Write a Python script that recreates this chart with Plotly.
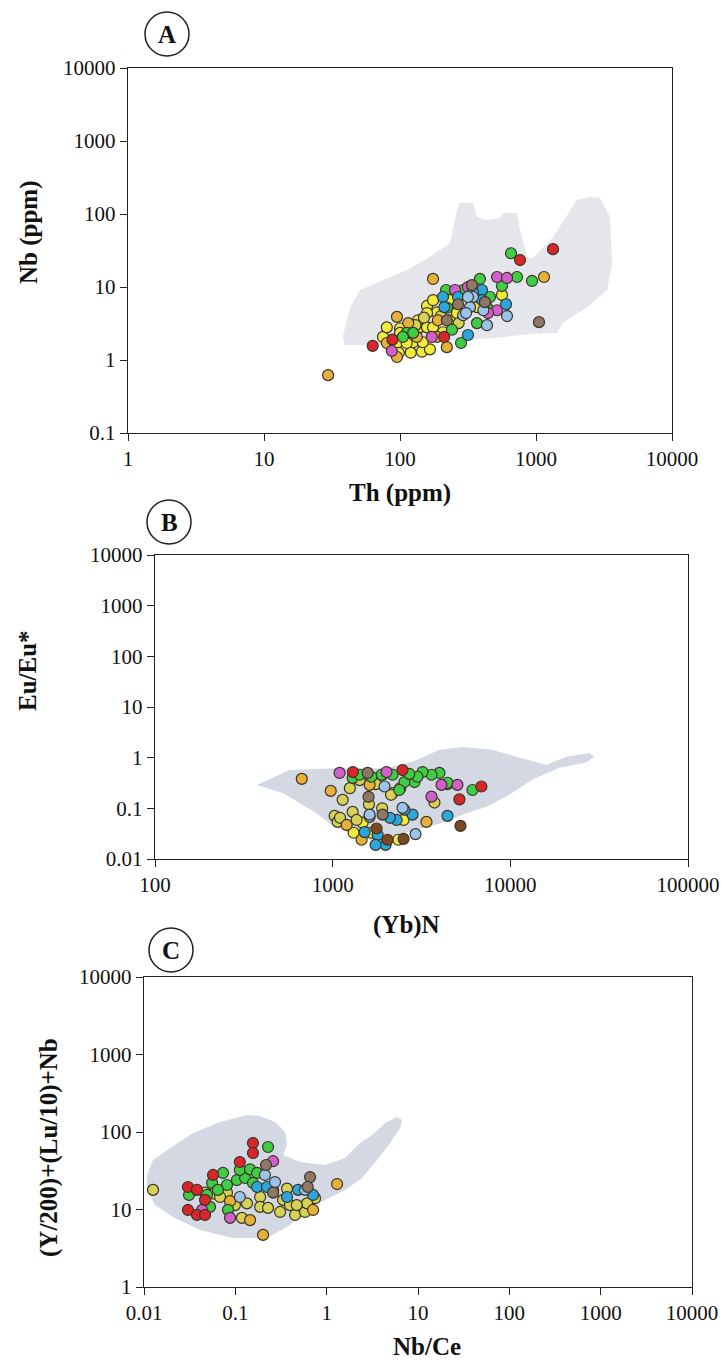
import plotly.graph_objects as go

W, H = 722, 1360
FONT = "'Liberation Serif', 'Times New Roman', Times, serif"

PALETTE = {
    "yellow": "#f1ec3c", "yg": "#d5d255", "gold": "#e6b13a", "green": "#3fcd46",
    "magenta": "#d35fcf", "blue": "#2aa7de", "lblue": "#9cc3ea", "brown": "#8e7763",
    "dbrown": "#7b4a24", "red": "#d8262b",
}

# ---------------- Panel A : Th (ppm) vs Nb (ppm) ----------------
A_field_th = [39, 38, 43, 51, 75, 112, 166, 233, 262, 276, 344, 368, 436, 543, 572, 725, 763, 859, 950,
              1334, 2000, 2500, 2950, 3500, 3620, 3330, 2370, 1580, 1430, 1000, 500, 200, 100, 39]
A_field_nb = [1.6, 2.1, 5.3, 9.1, 12.5, 17, 26, 40, 113, 142, 142, 91, 83, 88, 103, 103, 60, 26, 25,
              48, 156, 171, 166, 91, 21, 9.1, 5.3, 3.2, 2.35, 2.3, 2.0, 1.8, 1.6, 1.6]

A_th = [158, 187, 75, 95, 98, 120, 145, 166, 125, 147, 119, 140, 158, 175, 136, 100, 233, 262, 175, 158,
        233, 207, 100, 112, 368, 562, 80,
        130, 150, 200, 270,
        29.6, 175, 1145, 221, 95, 80, 95, 115, 187, 190, 133,
        63, 1334, 763, 211, 88,
        655, 281, 368, 935, 725, 387, 562, 218, 222, 436, 241, 291, 459, 112, 125, 105,
        316, 602, 207, 401, 212, 267, 401, 344,
        436, 612, 344, 291, 327, 306, 316, 410,
        517, 517, 612, 254, 444, 87, 171, 316,
        1052, 338, 267, 221, 421]
A_nb = [5.5, 4.5, 2.07, 1.71, 1.25, 1.26, 1.3, 1.4, 1.75, 1.75, 2.4, 2.8, 2.8, 2.8, 3.5, 2.7, 3.5, 4.4, 6.6, 4.4,
        6.6, 2.4, 2.35, 1.71, 5.3, 7.8, 2.8,
        3.0, 3.8, 4.0, 3.2,
        0.62, 12.9, 13.7, 1.5, 3.9, 1.71, 1.1, 3.2, 2.07, 3.5, 2.07,
        1.56, 33, 23.4, 2.07, 1.9,
        29, 1.71, 3.2, 12.1, 13.7, 12.9, 10.3, 9.1, 5.2, 5.3, 2.6, 9.1, 7.3, 2.35, 2.35, 2.07,
        2.2, 5.8, 7.3, 9.1, 5.3, 7.3, 6.6, 8.6,
        3.0, 4.0, 7.3, 4.1, 5.3, 4.4, 7.3, 4.8,
        4.8, 13.7, 13.3, 9.1, 4.4, 1.33, 2.07, 10,
        3.3, 10.6, 5.8, 3.5, 6.2]
A_grp = (["yellow"] * 27 + ["yg"] * 4 + ["gold"] * 11 + ["red"] * 5 + ["green"] * 16 +
         ["blue"] * 8 + ["lblue"] * 8 + ["magenta"] * 8 + ["brown"] * 5)

# ---------------- Panel B : (Yb)N vs Eu/Eu* ----------------
B_field_yb = [374, 573, 1000, 2000, 2815, 3990, 5375, 7918, 10810, 15930, 20640, 27800, 29650, 26720,
              18840, 13300, 9860, 7330, 5375, 4150, 2710, 1800, 1419, 1000, 813, 524, 374]
B_field_eu = [0.29, 0.57, 0.62, 0.62, 0.83, 1.43, 1.63, 1.43, 1.04, 0.72, 1.04, 1.24, 1.04, 0.80,
              0.63, 0.365, 0.185, 0.107, 0.0745, 0.052, 0.035, 0.022, 0.027, 0.045, 0.08, 0.2, 0.29]

B_yb = [670, 975, 1199, 1455, 1614, 3373,
        1138, 1026, 1067, 1295, 1364, 1419, 2174, 2130, 3740, 1600, 1250, 1900, 1750, 2400, 1100,
        1312, 1656, 2339, 1475, 2506,
        1514, 1791, 1986, 2290, 4430, 1745, 2815, 2535, 2100,
        2037, 5240, 2506, 1766,
        1614, 1959, 2926, 2473, 1614,
        1592, 1574, 1910,
        1295, 1419, 1910, 6120, 4430, 3990, 3600, 3205, 2890, 2535, 2174, 1884, 2370, 4430, 3000, 2700, 1650,
        1094, 3600, 5040, 2010, 4095,
        5170, 6870, 2473, 1300]
B_eu = [0.382, 0.221, 0.047, 0.024, 0.291, 0.054,
        0.147, 0.071, 0.054, 0.085, 0.059, 0.36, 0.20, 0.185, 0.13, 0.12, 0.25, 0.1, 0.3, 0.25, 0.065,
        0.033, 0.033, 0.024, 0.052, 0.059,
        0.034, 0.030, 0.019, 0.059, 0.071, 0.019, 0.075, 0.094, 0.065,
        0.024, 0.045, 0.025, 0.040,
        0.068, 0.27, 0.031, 0.102, 0.075,
        0.169, 0.50, 0.075,
        0.40, 0.46, 0.46, 0.23, 0.30, 0.50, 0.46, 0.52, 0.33, 0.33, 0.46, 0.46, 0.23, 0.32, 0.42, 0.48, 0.42,
        0.50, 0.17, 0.29, 0.52, 0.29,
        0.15, 0.27, 0.57, 0.52]
B_grp = (["gold"] * 6 + ["yg"] * 15 + ["yellow"] * 5 + ["blue"] * 9 + ["dbrown"] * 4 + ["lblue"] * 5 +
         ["brown"] * 3 + ["green"] * 17 + ["magenta"] * 5 + ["red"] * 4)

# ---------------- Panel C : Nb/Ce vs (Y/200)+(Lu/10)+Nb ----------------
C_field_x = [0.0108, 0.01255, 0.01786, 0.0344, 0.068, 0.134, 0.187, 0.272, 0.35, 0.368, 0.333, 0.512,
             0.959, 1.59, 2.32, 3.14, 4.36, 5.9, 6.7, 6.37, 4.95, 3.56, 2.44, 1.59, 0.959, 0.579,
             0.397, 0.222, 0.0944, 0.041, 0.0208, 0.0132, 0.0108]
C_field_y = [27.9, 43.5, 58.6, 97, 134.6, 165.6, 160.7, 134.6, 100, 67.9, 50.5, 41,
             37.5, 46.2, 72.1, 91.4, 130.6, 156.3, 142.9, 112.7, 72.1, 43.5, 25.5, 17.9, 13.3, 9.86,
             6.31, 4.29, 4.29, 5.43, 8.0, 11.4, 17.9]

C_x = [0.01255, 0.118, 0.0585,
       1.30, 0.145, 0.201, 0.0875, 0.71,
       0.156, 0.156, 0.112, 0.0303, 0.0303, 0.038, 0.0466, 0.057, 0.0466, 0.038,
       0.228, 0.0311, 0.0832, 0.0528, 0.0556, 0.0733, 0.081, 0.104, 0.128, 0.112, 0.145, 0.173, 0.156, 0.0489, 0.0644,
       0.259, 0.0432, 0.0875,
       0.217, 0.259, 0.658, 0.62,
       0.081, 0.259, 0.368, 0.187, 0.187, 0.228, 0.309, 0.333, 0.397, 0.451, 0.745, 0.58, 0.61, 0.47, 0.099,
       0.134, 0.068, 0.0466,
       0.211, 0.272, 0.58, 0.112,
       0.173, 0.222, 0.368, 0.486, 0.71]
C_y = [17.9, 7.8, 16,
       21.3, 7.3, 4.7, 12.8, 9.86,
       72, 53.6, 41, 19.5, 9.86, 8.5, 8.5, 27.9, 13.3, 17.9,
       64, 15.4, 9.9, 10.8, 22, 29.6, 20.7, 24, 25.5, 32.4, 33, 29.6, 22, 15.4, 17.9,
       42, 9.86, 7.8,
       37.5, 16.5, 26.2, 19.5,
       16.5, 17.9, 18.6, 14.5, 10.8, 10.5, 9.3, 13.3, 11.4, 8.5, 14, 9.3, 12, 11.4, 11.4,
       12, 14.5, 16.5,
       27.9, 22.6, 17.9, 14.5,
       19.5, 19.5, 14.5, 17.9, 15.4]
C_grp = (["yg"] * 3 + ["gold"] * 5 + ["red"] * 10 + ["green"] * 15 + ["magenta"] * 3 + ["brown"] * 4 +
         ["yg"] * 18 + ["lblue"] * 4 + ["blue"] * 5)

fig = go.Figure()


def add_panel(n, fx, fy, fill, xs, ys, grps):
    xa = "x" if n == 1 else f"x{n}"
    ya = "y" if n == 1 else f"y{n}"
    fig.add_trace(go.Scatter(x=fx, y=fy, mode="lines", fill="toself", fillcolor=fill,
                             line=dict(width=0, color=fill), xaxis=xa, yaxis=ya,
                             hoverinfo="skip", showlegend=False))
    for g in PALETTE:
        px_ = [x for x, k in zip(xs, grps) if k == g]
        py_ = [y for y, k in zip(ys, grps) if k == g]
        if not px_:
            continue
        fig.add_trace(go.Scatter(x=px_, y=py_, mode="markers", xaxis=xa, yaxis=ya, showlegend=False,
                                 marker=dict(size=11, color=PALETTE[g],
                                             line=dict(color="#3b3426", width=1.2))))


add_panel(1, A_field_th, A_field_nb, "#e4e6eb", A_th, A_nb, A_grp)
add_panel(2, B_field_yb, B_field_eu, "#d3d8e2", B_yb, B_eu, B_grp)
add_panel(3, C_field_x, C_field_y, "#d3d8e2", C_x, C_y, C_grp)

A_xticks = [1, 10, 100, 1000, 10000]
A_yticks = [0.1, 1, 10, 100, 1000, 10000]
B_xticks = [100, 1000, 10000, 100000]
B_yticks = [0.01, 0.1, 1, 10, 100, 1000, 10000]
C_xticks = [0.01, 0.1, 1, 10, 100, 1000, 10000]
C_yticks = [1, 10, 100, 1000, 10000]


def lab(v):
    return ("%g" % v) if v < 1 else str(int(v))


def ax(domain, rng, ticks):
    return dict(type="log", domain=domain, range=rng, tickvals=ticks, ticktext=[lab(t) for t in ticks],
                showgrid=False, zeroline=False, showline=True, linecolor="#222", linewidth=1.4,
                mirror=True, ticks="outside", ticklen=7, tickwidth=1.3, tickcolor="#222",
                automargin=False, tickfont=dict(family=FONT, size=21, color="#111"))


def dx(p0, p1):
    return [p0 / W, p1 / W]


def dy(top, bot):
    return [1 - bot / H, 1 - top / H]


fig.update_layout(
    width=W, height=H, margin=dict(l=0, r=0, t=0, b=0, pad=0, autoexpand=False),
    paper_bgcolor="white", plot_bgcolor="white", font=dict(family=FONT),
    xaxis=dict(**ax(dx(128, 672), [0, 4], A_xticks), anchor="y"),
    yaxis=dict(**ax(dy(68, 433), [-1, 4], A_yticks), anchor="x"),
    xaxis2=dict(**ax(dx(155, 688), [2, 5], B_xticks), anchor="y2"),
    yaxis2=dict(**ax(dy(555, 859), [-2, 4], B_yticks), anchor="x2"),
    xaxis3=dict(**ax(dx(144, 692), [-2, 4], C_xticks), anchor="y3"),
    yaxis3=dict(**ax(dy(977, 1287), [0, 4], C_yticks), anchor="x3"),
)

TF = dict(family=FONT, size=25, color="#111")
titles = [
    ("<b>Nb (ppm)</b>", 29, 232, -90),
    ("<b>Th (ppm)</b>", 400, 493, 0),
    ("<b>Eu/Eu*</b>", 27, 670, -90),
    ("<b>(Yb)N</b>", 407, 925, 0),
    ("<b>(Y/200)+(Lu/10)+Nb</b>", 49, 1148, -90),
    ("<b>Nb/Ce</b>", 427, 1346, 0),
]
ann = []
for t, x, y, rot in titles:
    ann.append(dict(text=t, x=x / W, y=1 - y / H, xref="paper", yref="paper", showarrow=False,
                    textangle=rot, font=TF, xanchor="center", yanchor="middle"))

shapes = []
for letter, cx, cy in [("A", 167, 34), ("B", 169, 522), ("C", 171, 950)]:
    r = 22
    shapes.append(dict(type="circle", xref="paper", yref="paper",
                       x0=(cx - r) / W, x1=(cx + r) / W, y0=1 - (cy + r) / H, y1=1 - (cy - r) / H,
                       line=dict(color="#222", width=1.5)))
    ann.append(dict(text=f"<b>{letter}</b>", x=cx / W, y=1 - cy / H, xref="paper", yref="paper",
                    showarrow=False, font=dict(family=FONT, size=25, color="#111"),
                    xanchor="center", yanchor="middle"))

fig.update_layout(annotations=ann, shapes=shapes)
fig.write_html("out.html")
